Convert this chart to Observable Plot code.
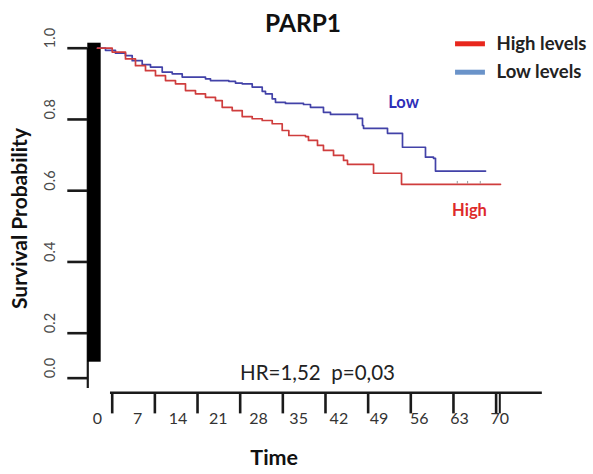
<!DOCTYPE html>
<html>
<head>
<meta charset="utf-8">
<script src="https://cdn.jsdelivr.net/npm/d3@7"></script>
<script src="https://cdn.jsdelivr.net/npm/@observablehq/plot@0.6"></script>
<style>
  html, body { margin: 0; padding: 0; background: #fff; }
  #chart svg { display: block; }
</style>
</head>
<body>
<div id="chart"></div>
<script>
// ---- Data ----
const highTime = [0, 2.56, 4.87, 6.61, 8.35, 10.09, 11.83, 13.57, 15.31, 17.05, 18.79, 20.53, 21.7, 23.44, 25.18, 26.92, 28.66, 30.4, 32.14, 33.29, 36.19, 36.71, 38.28, 39.32, 41.07, 42.81, 43.5, 48.03, 52.9, 70.12];
const highSurv = [1.0, 0.989, 0.970, 0.951, 0.937, 0.923, 0.909, 0.900, 0.881, 0.872, 0.862, 0.853, 0.834, 0.825, 0.808, 0.802, 0.797, 0.788, 0.769, 0.755, 0.752, 0.741, 0.727, 0.713, 0.699, 0.685, 0.674, 0.649, 0.618, 0.618];
const lowTime = [0, 1.39, 3.13, 4.87, 6.04, 7.78, 9.22, 11.26, 13.0, 14.74, 18.79, 19.66, 22.85, 24.01, 25.18, 26.92, 28.66, 29.23, 30.4, 30.97, 32.71, 35.85, 37.06, 39.32, 40.54, 45.24, 46.11, 46.29, 50.46, 53.07, 57.07, 58.47, 58.81, 67.52];
const lowSurv = [1.0, 0.994, 0.986, 0.979, 0.965, 0.954, 0.947, 0.933, 0.928, 0.919, 0.914, 0.909, 0.907, 0.902, 0.900, 0.891, 0.879, 0.872, 0.858, 0.848, 0.845, 0.842, 0.834, 0.820, 0.814, 0.803, 0.783, 0.775, 0.761, 0.722, 0.694, 0.691, 0.655, 0.655];
const highCensor = [62.6, 64.4, 66.6];

const xTickValues = [0, 7, 14, 21, 28, 35, 42, 49, 56, 63];
const xEndTick = [70];
const xLabels = [0, 7, 14, 21, 28, 35, 42, 49, 56, 63, 70];
const yTicks = [0.2, 0.4, 0.6, 0.8, 1.0];
const yZeroTick = [0];

const legendLabels = ["High levels", "Low levels"];
const legendSurv = [1.0124, 0.9326];
const groupColors = {line: ["#cf3d3d", "#4242a8"], swatch: ["#e8271d", "#6a93c9"], label: ["#dd2a2a", "#2f2fb8"]};

// ---- Tables built from the arrays ----
const high = highTime.map((t, i) => ({t, s: highSurv[i]}));
const low = lowTime.map((t, i) => ({t, s: lowSurv[i]}));
const legend = legendLabels.map((label, i) => ({label, s: legendSurv[i], swatch: groupColors.swatch[i]}));

// layout constants (in scale units)
const tickShift = 2.56, tickStretch = 1.0603;
const font = "Lato, 'Open Sans', sans-serif";
const ink = "#1a1a1a";

const chart = Plot.plot({
  width: 593,
  height: 474,
  marginLeft: 110,
  marginRight: 51.3,
  marginTop: 47.7,
  marginBottom: 81.7,
  style: {background: "#fff", fontFamily: font},
  x: {domain: [0, 70], range: [97, 499.3], axis: null},
  y: {domain: [0, 1], range: [403.95, 47.7], axis: null},
  marks: [
    // x axis line
    Plot.ruleY([0.0327], {x1: 2.26, x2: 77.4, stroke: ink, strokeWidth: 2.6}),
    // x ticks
    Plot.ruleX(xTickValues, {x: d => tickShift + d * tickStretch, y1: 0.0327, y2: -0.0265, stroke: ink, strokeWidth: 2.6}),
    Plot.ruleX(xEndTick, {x: d => d, y1: 0.0327, y2: -0.0265, stroke: ink, strokeWidth: 2}),
    // x tick labels
    Plot.text(xLabels, {x: d => d, frameAnchor: "bottom", dy: 31, text: d => String(d), fontSize: 16, fill: "#333", fontFamily: font}),
    // y axis line
    Plot.ruleX([-1.69], {y1: 0.0448, y2: 1.0, stroke: ink, strokeWidth: 2.2}),
    // y ticks
    Plot.ruleY(yTicks, {y: d => d, x1: -5.17, x2: -1.69, stroke: ink, strokeWidth: 2.6}),
    Plot.ruleY(yZeroTick, {y: d => d, x1: -5.17, x2: -1.69, dy: -26.3, stroke: ink, strokeWidth: 2.6}),
    // y tick labels
    Plot.text(yTicks, {y: d => d, frameAnchor: "left", dx: -60, rotate: -90, text: d => d.toFixed(1), fontSize: 14.5, fill: "#4a4a4a", fontFamily: font}),
    Plot.text(yZeroTick, {y: d => d, frameAnchor: "left", dx: -60, dy: -26.3, rotate: -90, text: d => d.toFixed(1), fontSize: 14.5, fill: "#4a4a4a", fontFamily: font}),
    // black bar along the axis
    Plot.rect([{x1: -1.69, x2: 0.64, y1: 0.1186, y2: 1.014}], {x1: "x1", x2: "x2", y1: "y1", y2: "y2", fill: "#000"}),
    // survival curves
    Plot.line(low, {x: "t", y: "s", curve: "step-after", stroke: groupColors.line[1], strokeWidth: 1.7}),
    Plot.line(high, {x: "t", y: "s", curve: "step-after", stroke: groupColors.line[0], strokeWidth: 1.7}),
    Plot.ruleX(highCensor, {x: d => d, y1: 0.618, y2: 0.626, stroke: "#999", strokeWidth: 1}),
    // legend
    Plot.ruleY(legend, {y: "s", x1: 62.3, x2: 67.5, stroke: "swatch", strokeWidth: 5}),
    Plot.text(legend, {x: 69.43, y: "s", text: "label", textAnchor: "start", fontSize: 18.5, fontWeight: "bold", fill: "#222", fontFamily: font}),
    // annotations
    Plot.text(["PARP1"], {x: 35.76, y: 1.0665, text: d => d, fontSize: 24.5, fontWeight: "bold", fill: "#111", fontFamily: font}),
    Plot.text(["Low"], {x: 53.25, y: 0.8456, text: d => d, fontSize: 16.5, fontWeight: "bold", fill: groupColors.label[1], fontFamily: font}),
    Plot.text(["High"], {x: 64.73, y: 0.5425, text: d => d, fontSize: 16.5, fontWeight: "bold", fill: groupColors.label[0], fontFamily: font}),
    Plot.text(["HR=1,52  p=0,03"], {x: 38.28, y: 0.087, text: d => d, fontSize: 20.5, fill: "#222", fontFamily: font}),
    Plot.text(["Time"], {x: 30.75, y: -0.1514, text: d => d, fontSize: 21.5, fontWeight: "bold", fill: "#111", fontFamily: font}),
    Plot.text(["Survival Probability"], {x: -13.4, y: 0.522, rotate: -90, text: d => d, fontSize: 21, fontWeight: "bold", fill: "#111", fontFamily: font})
  ]
});
chart.querySelectorAll("text").forEach(t => t.setAttribute("xml:space", "preserve"));
chart.querySelectorAll("text").forEach(t => t.style.whiteSpace = "pre");
document.getElementById("chart").appendChild(chart);
</script>
</body>
</html>
